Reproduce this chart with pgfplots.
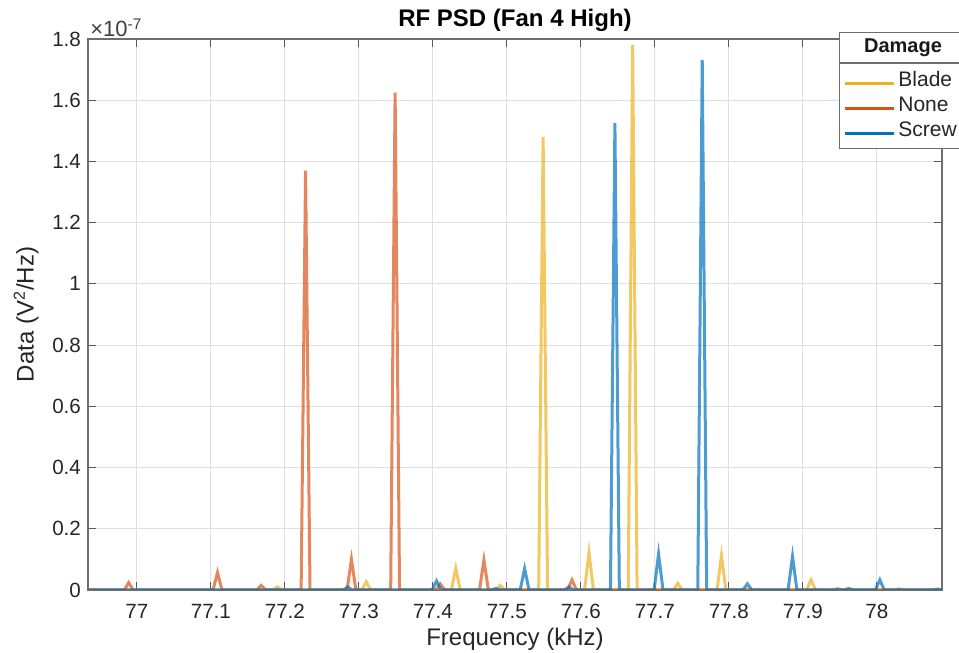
\documentclass[border=0pt]{standalone}
\usepackage{pgfplots}
\pgfplotsset{compat=1.18}
\usepackage{fontspec}
\setmainfont{Liberation Sans}
\definecolor{cBlade}{RGB}{237,177,32}
\definecolor{cNone}{RGB}{217,83,25}
\definecolor{cScrew}{RGB}{0,114,189}
\definecolor{axgray}{RGB}{110,110,110}
\begin{document}
\begin{tikzpicture}
\path[use as bounding box] (-44pt,-31.5pt) rectangle (435.5pt,295pt);
\begin{axis}[
  scale only axis, width=427pt, height=275.5pt,
  at={(0pt,0pt)}, anchor=south west,
  xmin=76.934, xmax=78.088, ymin=0, ymax=1.8,
  xtick={77,77.1,77.2,77.3,77.4,77.5,77.6,77.7,77.8,77.9,78},
  xticklabels={77,77.1,77.2,77.3,77.4,77.5,77.6,77.7,77.8,77.9,78},
  ytick={0,0.2,0.4,0.6,0.8,1,1.2,1.4,1.6,1.8},
  yticklabels={0,0.2,0.4,0.6,0.8,1,1.2,1.4,1.6,1.8},
  tick align=inside, major tick length=4pt,
  grid=major, grid style={black!12, line width=0.4pt},
  axis line style={axgray, line width=0.6pt},
  tick style={axgray!80!black, line width=0.6pt},
  ticklabel style={font=\fontsize{10.3}{12}\selectfont, text=black!85},
  xticklabel style={yshift=-3.5pt},
  xlabel={Frequency (kHz)}, ylabel={Data (V\textsuperscript{2}/Hz)},
  label style={font=\fontsize{12}{14}\selectfont, text=black!85},
  xlabel style={yshift=2pt},
  title={\textbf{RF PSD (Fan 4 High)}},
  title style={font=\fontsize{12}{14}\selectfont, yshift=-6pt},
  legend style={at={(rel axis cs:0.8794,0.9564)}, anchor=north west,
    draw=axgray, line width=0.6pt, fill=white, inner xsep=2pt, inner ysep=2.5pt,
    font=\fontsize{10.5}{12}\selectfont, row sep=0pt,
    nodes={text width=60pt, text height=8pt, text depth=2.5pt, inner ysep=1pt, inner xsep=1.5pt, text=black!85}},
  legend cell align=left,
  legend image code/.code={\draw[#1, line width=1.4pt, opacity=1] (0pt,-1pt) -- (24.5pt,-1pt);},
  clip mode=individual,
]
\addplot[cBlade, line width=1.5pt, opacity=0.7] coordinates {
(76.934,0) (77.184,0) (77.190,0.01) (77.196,0)
(77.304,0) (77.310,0.027) (77.316,0)
(77.425,0) (77.431,0.071) (77.437,0)
(77.485,0) (77.491,0.015) (77.497,0)
(77.543,0) (77.549,1.48) (77.555,0)
(77.605,0) (77.611,0.123) (77.617,0)
(77.664,0) (77.670,1.781) (77.676,0)
(77.725,0) (77.731,0.022) (77.737,0)
(77.784,0) (77.790,0.112) (77.796,0)
(77.905,0) (77.911,0.033) (77.917,0)
(78.024,0) (78.030,0.004) (78.036,0)
(78.088,0)};
\addlegendentry{Blade}
\addplot[cNone, line width=1.5pt, opacity=0.7] coordinates {
(76.934,0) (76.983,0) (76.989,0.024) (76.995,0)
(77.103,0) (77.109,0.057) (77.115,0)
(77.162,0) (77.168,0.015) (77.174,0)
(77.222,0) (77.228,1.37) (77.234,0)
(77.284,0) (77.290,0.10) (77.296,0)
(77.343,0) (77.349,1.625) (77.355,0)
(77.404,0) (77.410,0.02) (77.416,0)
(77.463,0) (77.469,0.098) (77.475,0)
(77.582,0) (77.588,0.033) (77.594,0)
(77.941,0) (77.947,0.004) (77.953,0)
(78.088,0)};
\addlegendentry{None}
\addplot[cScrew, line width=1.5pt, opacity=0.7] coordinates {
(76.934,0) (77.279,0) (77.285,0.01) (77.291,0)
(77.399,0) (77.405,0.03) (77.411,0)
(77.479,0) (77.485,0.005) (77.491,0)
(77.518,0) (77.524,0.07) (77.530,0)
(77.578,0) (77.584,0.01) (77.590,0)
(77.640,0) (77.646,1.525) (77.652,0)
(77.699,0) (77.705,0.118) (77.711,0)
(77.758,0) (77.764,1.732) (77.770,0)
(77.819,0) (77.825,0.02) (77.831,0)
(77.880,0) (77.886,0.11) (77.892,0)
(77.956,0) (77.962,0.005) (77.968,0)
(77.998,0) (78.004,0.033) (78.010,0)
(78.076,0) (78.082,0.003) (78.088,0)};
\addlegendentry{Screw}
\coordinate (LG) at (rel axis cs:0.8794,0.9564);
\end{axis}
\node[draw=axgray, line width=0.6pt, fill=white, anchor=south west, minimum width=90pt, minimum height=15pt, inner sep=0pt] at (LG) {};
\node[font=\bfseries\fontsize{10}{12}\selectfont, text=black!90] at ([xshift=32pt,yshift=7.5pt]LG) {Damage};
\node[anchor=base west, font=\fontsize{11}{13}\selectfont, text=black!75, inner sep=0pt] at (1pt,276.5pt) {×10\textsuperscript{-7}};
\end{tikzpicture}
\end{document}
